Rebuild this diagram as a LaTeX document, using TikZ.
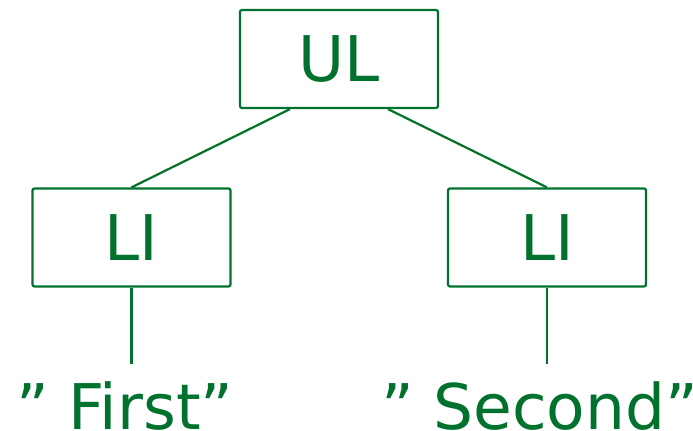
\documentclass[tikz,border=0pt]{standalone}
\usepackage{fontspec}
\setmainfont{DejaVu Sans}
\usepackage{tikz}
\usetikzlibrary{positioning}
\definecolor{tree-green}{HTML}{00722D}

\begin{document}
\begin{tikzpicture}[x=0.5pt, y=-0.5pt, font=\fontsize{31.5}{37}\selectfont,
  box/.style={draw=tree-green, text=tree-green, line width=1.1pt, rounded corners=1pt,
    minimum width=99pt, minimum height=49pt, inner sep=0pt},
  text only/.style={text=tree-green, inner xsep=0pt, inner ysep=9pt, anchor=base},
  link/.style={draw=tree-green, line width=1.1pt}]
\useasboundingbox (0,0) rectangle (693,431);
\node[box]
  (ul)
  at (339, 59)
  {UL};
\foreach \x/\name/\shift/\word/\wx in {
    131.5/first/-24.5pt/First/125,
    547/second/24.5pt/Second/540} {
  \node[box]
    (li-\name)
    at (\x, 237.5)
    {LI};
  \node[text only]
    (word-\name)
    at (\wx, 430)
    {”\hspace{0.3em}\word”};
  \draw[link] ([xshift=\shift]ul.south) -- (li-\name.north);
  \draw[link] (li-\name.south) -- (li-\name.south |- word-\name.north);
}
\end{tikzpicture}
\end{document}
